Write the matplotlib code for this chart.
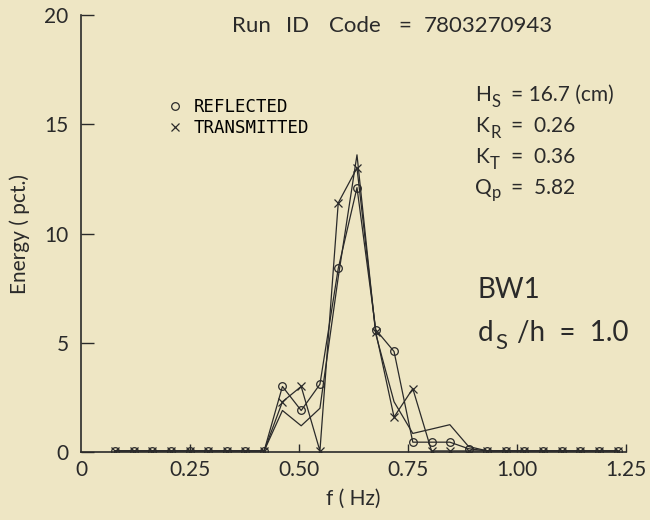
import matplotlib.pyplot as plt
from matplotlib.lines import Line2D

# frecuencias (Hz) y energia (pct.)
freq = [0.078, 0.121, 0.163, 0.206, 0.249, 0.291, 0.334, 0.377, 0.420, 0.462,
        0.505, 0.548, 0.590, 0.633, 0.676, 0.718, 0.761, 0.804, 0.846, 0.889,
        0.932, 0.975, 1.017, 1.060, 1.103, 1.145, 1.188, 1.231]
reflected = [0.05, 0.05, 0.05, 0.05, 0.05, 0.05, 0.05, 0.05, 0.05, 3.0,
             1.9, 3.1, 8.4, 12.1, 5.6, 4.6, 0.45, 0.45, 0.45, 0.15,
             0.05, 0.05, 0.05, 0.05, 0.05, 0.05, 0.05, 0.05]
transmitted = [0.05, 0.05, 0.05, 0.05, 0.05, 0.05, 0.05, 0.05, 0.05, 2.3,
               3.0, 0.05, 11.4, 13.0, 5.5, 1.6, 2.9, 0.05, 0.05, 0.05,
               0.05, 0.05, 0.05, 0.05, 0.05, 0.05, 0.05, 0.05]
incident = [0.05, 0.05, 0.05, 0.05, 0.05, 0.05, 0.05, 0.05, 0.05, 1.9,
            1.2, 2.0, 8.0, 13.6, 5.4, 2.3, 0.85, 1.05, 1.25, 0.25,
            0.05, 0.05, 0.05, 0.05, 0.05, 0.05, 0.05, 0.05]

xticks = [0, 0.25, 0.5, 0.75, 1.0, 1.25]
xlabels = ["0", "0.25", "0.50", "0.75", "1.00", "1.25"]
yticks = [0, 5, 10, 15, 20]

bg = "#EEE6C4"
ink = "#2a2a2a"
font = "Lato"

plt.rcParams['font.family'] = [font, 'DejaVu Sans']

fig = plt.figure(figsize=(6.5, 5.2), dpi=100, facecolor=bg)
ax = fig.add_axes([81/650, 1 - 452/520, 545/650, 437/520])
ax.set_facecolor(bg)

ax.plot(freq, incident, color=ink, lw=0.9)
ax.plot(freq, reflected, color=ink, lw=0.9, marker='o', ms=5.5, mfc='none', mew=0.9)
ax.plot(freq, transmitted, color=ink, lw=0.9, marker='x', ms=5.5, mew=0.9)

ax.set_xlim(0, 1.25)
ax.set_ylim(0, 20)
ax.set_xticks(xticks)
ax.set_xticklabels(xlabels)
ax.set_yticks(yticks)
for s in ['top', 'right']:
    ax.spines[s].set_visible(False)
for s in ['left', 'bottom']:
    ax.spines[s].set_color(ink)
    ax.spines[s].set_linewidth(1.2)
ax.tick_params(axis='y', direction='in', length=9, width=1, pad=9, labelsize=15, colors=ink)
ax.tick_params(axis='x', direction='in', length=6, width=1, pad=6, labelsize=15, colors=ink)
ax.xaxis.get_major_ticks()[0].tick1line.set_visible(False)

ax.set_xlabel("f ( Hz)", fontsize=15, color=ink, labelpad=6)
ax.set_ylabel("Energy ( pct.)", fontsize=15, color=ink, labelpad=10)

# leyenda
handles = [Line2D([], [], color=ink, marker='o', ls='none', ms=5.5, mfc='none', mew=0.9),
           Line2D([], [], color=ink, marker='x', ls='none', ms=5.5, mew=0.9)]
ax.legend(handles, ["REFLECTED", "TRANSMITTED"], loc='upper left',
          bbox_to_anchor=(152/650, 1 - 82/520), bbox_transform=fig.transFigure,
          frameon=False, handlelength=0.8, handletextpad=0.7, labelspacing=0.2,
          prop={'family': 'DejaVu Sans Mono', 'size': 12.5})

# titulo, por partes para imitar el espaciado
for txt, px in [("Run", 232), ("ID", 286), ("Code", 329), ("=", 398), ("7803270943", 424)]:
    fig.text(px/650, 1 - 26/520, txt, fontsize=16, color=ink, va='center', ha='left')


def sub_text(px, py, main, sub, sx, sy, rest, rx, size=15, subsize=12):
    fig.text(px/650, 1 - py/520, main, fontsize=size, color=ink, va='center', ha='left')
    fig.text(sx/650, 1 - (py + sy)/520, sub, fontsize=subsize, color=ink,
             va='center', ha='left')
    fig.text(rx/650, 1 - py/520, rest, fontsize=size, color=ink, va='center', ha='left')


sub_text(475, 95, "H", "S", 491, 7, "= 16.7 (cm)", 511)
sub_text(475, 126, "K", "R", 490, 7, "=  0.26", 511)
sub_text(475, 157, "K", "T", 490, 7, "=  0.36", 511)
sub_text(475, 188, "Q", "p", 492, 5, "=  5.82", 511)

fig.text(478/650, 1 - 290/520, "BW1", fontsize=20, color=ink, va='center', ha='left')
sub_text(478, 333, "d", "S", 495, 10, "/h  =  1.0", 517, size=20, subsize=16)

fig.savefig("out.png", dpi=100, facecolor=bg)
